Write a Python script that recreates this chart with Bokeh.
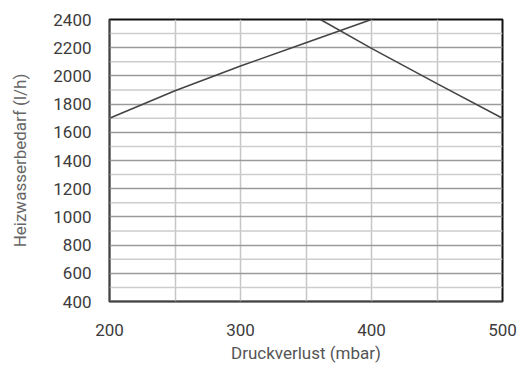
from bokeh.plotting import figure
from bokeh.models import Range1d, FixedTicker, Span
from bokeh.embed import file_html
from bokeh.resources import INLINE

# Pressure loss (mbar) vs. heating water demand (l/h)
rise_x = [200, 250, 300, 350, 400]
rise_y = [1700, 1895, 2070, 2235, 2400]

fall_x = [361, 400, 450, 500]
fall_y = [2400, 2195, 1945, 1700]

x_ticks = [200, 300, 400, 500]
y_ticks = [400, 600, 800, 1000, 1200, 1400, 1600, 1800, 2000, 2200, 2400]
x_grid = [250, 300, 350, 400, 450]
y_minor = [500, 700, 900, 1100, 1300, 1500, 1700, 1900, 2100, 2300]

FONT = "Roboto"

p = figure(width=530, height=365, output_backend="svg", toolbar_location=None,
           x_range=Range1d(200, 500), y_range=Range1d(400, 2400),
           min_border_left=109, min_border_right=28, min_border_top=19,
           min_border_bottom=62)
p.background_fill_color = "white"
p.border_fill_color = "white"

p.xaxis.ticker = FixedTicker(ticks=x_ticks)
p.yaxis.ticker = FixedTicker(ticks=y_ticks)
p.xgrid.ticker = FixedTicker(ticks=x_grid)
p.ygrid.ticker = FixedTicker(ticks=y_ticks)

p.xgrid.grid_line_color = "#c6c6c6"
p.xgrid.grid_line_width = 1.5
p.ygrid.grid_line_color = "#9a9a9a"
p.ygrid.grid_line_width = 1.5

for v in y_minor:
    p.add_layout(Span(location=v, dimension="width", line_color="#cdcdcd", line_width=1.5,
                      level="underlay"))

p.outline_line_color = "#111111"
p.outline_line_width = 2

for ax in (p.xaxis[0], p.yaxis[0]):
    ax.axis_line_color = None
    ax.major_tick_line_color = None
    ax.minor_tick_line_color = None
    ax.major_label_text_font = FONT
    ax.major_label_text_font_size = "17px"
    ax.major_label_text_color = "#3c3c3c"
    ax.axis_label_text_font = FONT
    ax.axis_label_text_font_size = "17px"
    ax.axis_label_text_color = "#555555"
    ax.axis_label_text_font_style = "normal"

p.yaxis.axis_label_text_color = "#666666"

p.xaxis.axis_label = "Druckverlust (mbar)"
p.yaxis.axis_label = "Heizwasserbedarf (l/h)"
p.xaxis.major_label_standoff = 16
p.xaxis.axis_label_standoff = 4
p.yaxis.major_label_standoff = 12
p.yaxis.axis_label_standoff = 20

# left and bottom frame edges in grey
p.add_layout(Span(location=200, dimension="height", line_color="#777777", line_width=2))
p.add_layout(Span(location=400, dimension="width", line_color="#777777", line_width=2))

p.line(rise_x, rise_y, line_color="#444444", line_width=1.6)
p.line(fall_x, fall_y, line_color="#444444", line_width=1.6)

open("out.html", "w").write(file_html(p, INLINE))
